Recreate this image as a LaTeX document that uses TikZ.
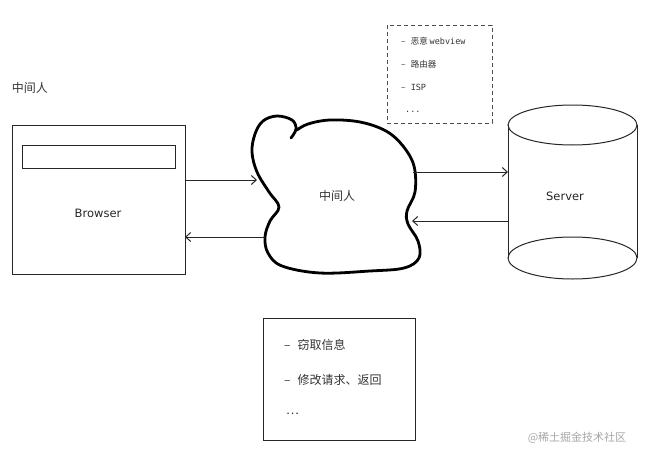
\documentclass[tikz,border=0pt]{standalone}
\usepackage{fontspec}
\setmainfont{DejaVu Sans}
\newfontfamily\cjk{Noto Sans CJK SC}
\newfontfamily\monof{DejaVu Sans Mono}
\usetikzlibrary{arrows.meta}
\begin{document}
\begin{tikzpicture}[x=1pt,y=-1pt,
  thinline/.style={line width=1pt,draw=black!85},
  arr/.style={thinline,-{Straight Barb[length=5pt,width=9pt]}},
  cjktext/.style={font=\cjk\fontsize{12}{14}\selectfont,text=black!80,inner sep=0pt},
  smalltext/.style={font=\cjk\fontsize{8.5}{10}\selectfont,text=black!80,anchor=west,inner sep=0pt},
  hand/.style={font=\fontsize{11.5}{13}\selectfont,text=black!85,inner sep=0pt}]
\useasboundingbox (0,0) rectangle (645,452);
% label
\node[cjktext] (lbl) at (30,88) {中间人};
% browser
\draw[thinline] (12,125) rectangle (185,274);
\draw[thinline] (22,145) rectangle (175,168);
\node[hand] (browser) at (98,213) {Browser};
\coordinate (bR1) at (185,180);
\coordinate (bR2) at (185,237);
% cloud
\draw[line width=2.8pt,line cap=round,line join=round] plot[smooth,tension=0.6] coordinates {
 (291,138) (296,129) (292,120) (277,116) (263,121) (255,134) (252,152) (257,172)
 (269,192) (279,207) (270,221) (265,237) (268,253) (282,266) (320,273) (370,271)
 (404,268) (419,258) (418,241) (408,224) (407,211) (415,192) (414,166) (403,146)
 (386,131) (360,122) (330,120) (308,124) (297,130)};
\node[cjktext] (mitm) at (337,196) {中间人};
\coordinate (cL1) at (257,180);
\coordinate (cL2) at (265,237);
\coordinate (cR1) at (413,172);
\coordinate (cR2) at (412,221);
% server cylinder
\draw[thinline] (508,125) -- (508,258);
\draw[thinline] (637,125) -- (637,258);
\draw[thinline] (572.5,125) ellipse [x radius=64.5, y radius=20];
\draw[thinline] (508,258) arc[start angle=180,end angle=360,x radius=64.5,y radius=21];
\draw[thinline] (508,258) arc[start angle=180,end angle=0,x radius=64.5,y radius=21];
\node[hand] (server) at (565,196) {Server};
\coordinate (sL1) at (508,172);
\coordinate (sL2) at (508,221);
% arrows
\draw[arr] (bR1) -- (cL1);
\draw[arr] (cL2) -- (bR2);
\draw[arr] (cR1) -- (sL1);
\draw[arr] (sL2) -- (cR2);
% dashed box
\draw[line width=0.9pt,draw=black!70,dash pattern=on 4pt off 3pt] (387,25) rectangle (492,123);
\node[smalltext] (t1) at (401,41) {–\hspace{5pt}恶意 {\monof webview}};
\node[smalltext] (t2) at (401,64) {–\hspace{5pt}路由器};
\node[smalltext] (t3) at (401,87) {–\hspace{5pt}{\monof ISP}};
\node[smalltext] (t4) at (405,112) {\monof ...};
% bottom box
\draw[thinline] (263,318) rectangle (415,440);
\node[cjktext,anchor=west] (b1) at (284,345) {–\hspace{7pt}窃取信息};
\node[cjktext,anchor=west] (b2) at (284,380) {–\hspace{7pt}修改请求、返回};
\node[cjktext,anchor=west] (b3) at (286,414) {…};
% watermark
\node[font=\cjk\fontsize{11}{13}\selectfont,text=black!35,inner sep=0pt] (wm) at (577,438) {@稀土掘金技术社区};
\end{tikzpicture}
\end{document}
